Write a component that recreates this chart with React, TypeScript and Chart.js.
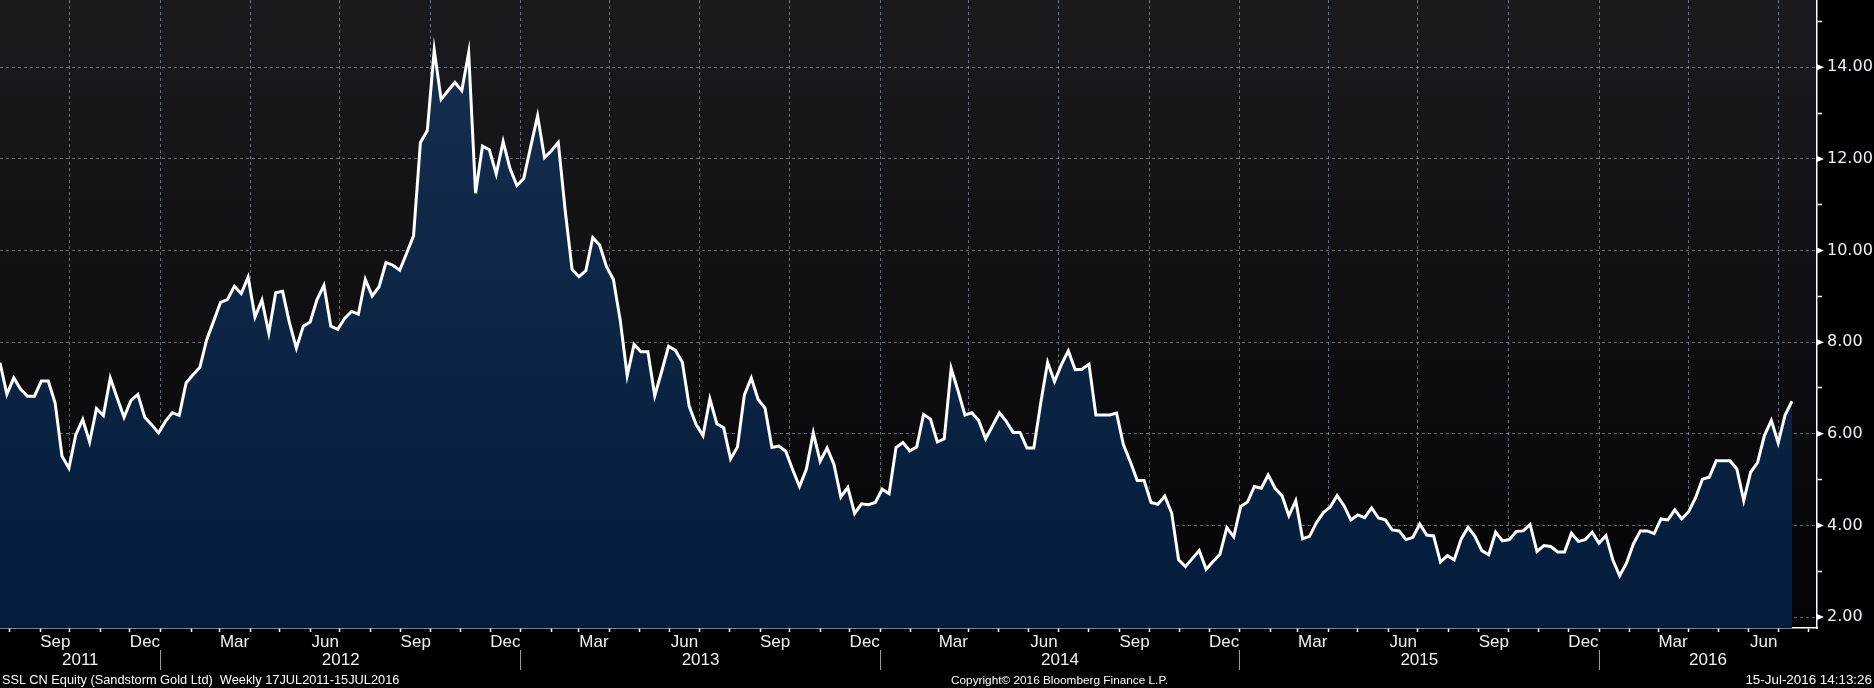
import React, { useEffect, useRef } from "react";
import { Chart, registerables } from "chart.js";

Chart.register(...registerables);

// ---- data -------------------------------------------------------------
const START_UTC = Date.UTC(2011, 6, 22); // first weekly close (Fri 22 Jul 2011)
const DAY_MS = 86400000;
const WEEK_DAYS = 7;
const X_MAX_DAYS = 1845.4;
const Y_MIN = 1.76;
const Y_MAX = 15.47;

// weekly closes, SSL CN Equity (CAD)
const prices2011 = [
  7.55, 6.86, 7.22, 6.97, 6.82, 6.82, 7.15, 7.15, 6.67, 5.51, 5.25, 5.98, 6.31,
  5.82, 6.55, 6.4, 7.22, 6.78, 6.36, 6.73, 6.86, 6.36, 6.2,
];
const prices2012 = [
  6.02, 6.27, 6.46, 6.4, 7.11, 7.29, 7.45, 8.06, 8.46, 8.87, 8.93, 9.22, 9.06,
  9.42, 8.55, 8.92, 8.2, 9.08, 9.11, 8.42, 7.87, 8.35, 8.44, 8.93, 9.24, 8.35,
  8.28, 8.52, 8.67, 8.61, 9.37, 9.01, 9.21, 9.74, 9.68, 9.57, 9.94, 10.32,
  12.36, 12.62, 14.38, 13.3, 13.49, 13.67, 13.49, 14.32, 11.25, 12.28, 12.2,
  11.67, 12.38, 11.79, 11.42,
];
const prices2013 = [
  11.58, 12.27, 12.94, 12.03, 12.18, 12.36, 10.88, 9.59, 9.43, 9.56, 10.28,
  10.12, 9.65, 9.37, 8.47, 7.27, 7.95, 7.79, 7.79, 6.83, 7.36, 7.91, 7.82, 7.56,
  6.6, 6.2, 5.96, 6.76, 6.22, 6.13, 5.45, 5.71, 6.85, 7.22, 6.75, 6.56, 5.7,
  5.73, 5.62, 5.22, 4.85, 5.23, 6.02, 5.4, 5.69, 5.33, 4.62, 4.83, 4.26, 4.47,
  4.45, 4.5,
];
const prices2014 = [
  4.79, 4.69, 5.7, 5.81, 5.63, 5.71, 6.42, 6.32, 5.82, 5.89, 7.43, 6.94, 6.41,
  6.46, 6.29, 5.89, 6.17, 6.46, 6.27, 6.03, 6.03, 5.69, 5.69, 6.67, 7.56, 7.14,
  7.51, 7.81, 7.4, 7.41, 7.52, 6.41, 6.41, 6.41, 6.45, 5.76, 5.39, 4.98, 4.98,
  4.5, 4.46, 4.64, 4.27, 3.25, 3.1, 3.28, 3.45, 3.04, 3.21, 3.37, 3.95, 3.75,
];
const prices2015 = [
  4.41, 4.51, 4.85, 4.81, 5.1, 4.81, 4.65, 4.21, 4.54, 3.71, 3.76, 4.06, 4.28,
  4.4, 4.65, 4.43, 4.12, 4.23, 4.17, 4.38, 4.16, 4.12, 3.9, 3.88, 3.69, 3.74,
  4.03, 3.79, 3.77, 3.2, 3.34, 3.25, 3.7, 3.96, 3.76, 3.45, 3.36, 3.85, 3.66,
  3.69, 3.87, 3.88, 4.02, 3.43, 3.56, 3.54, 3.42, 3.42, 3.83, 3.65, 3.69, 3.85,
];
const prices2016 = [
  3.61, 3.78, 3.25, 2.9, 3.18, 3.6, 3.88, 3.88, 3.82, 4.14, 4.12, 4.34, 4.14,
  4.3, 4.6, 5.01, 5.05, 5.41, 5.41, 5.41, 5.23, 4.54, 5.16, 5.37, 5.96, 6.29,
  5.8, 6.41, 6.71,
];
const PRICES = [
  ...prices2011,
  ...prices2012,
  ...prices2013,
  ...prices2014,
  ...prices2015,
  ...prices2016,
];

const MONTH_NAMES = ["Jan", "Feb", "Mar", "Apr", "May", "Jun", "Jul", "Aug", "Sep", "Oct", "Nov", "Dec"];
const LABELLED_MONTHS = ["Sep", "Dec", "Mar", "Jun"];
const GRID_MONTHS = ["Jan", "Apr", "Jul", "Oct"];
const YEARS = [2011, 2012, 2013, 2014, 2015, 2016];
const Y_TICKS = [2, 3, 4, 5, 6, 7, 8, 9, 10, 11, 12, 13, 14, 15];

const FOOTER_LEFT = "SSL CN Equity (Sandstorm Gold Ltd)  Weekly 17JUL2011-15JUL2016";
const FOOTER_CENTER = "Copyright\u00A9 2016 Bloomberg Finance L.P.";
const FOOTER_RIGHT = "15-Jul-2016 14:13:26";

// ---- helpers ----------------------------------------------------------
const dayOf = (y: number, m: number) => (Date.UTC(y, m, 1) - START_UTC) / DAY_MS;
const monthOf = (d: number) => new Date(START_UTC + Math.round(d) * DAY_MS).getUTCMonth();

const MONTH_TICKS: number[] = [];
for (const y of [2011, ...YEARS.slice(1), 2017]) {
  for (let m = 0; m < 12; m++) {
    const d = dayOf(y, m);
    if (d >= 0 && d <= X_MAX_DAYS) MONTH_TICKS.push(d);
  }
}

type YearTick = { value: number; label: string; boundary: boolean };
const YEAR_TICKS: YearTick[] = [];
for (const y of YEARS) {
  const lo = Math.max(0, dayOf(y, 0));
  const hi = Math.min(X_MAX_DAYS, dayOf(y + 1, 0));
  if (dayOf(y, 0) > 0) YEAR_TICKS.push({ value: dayOf(y, 0), label: "", boundary: true });
  YEAR_TICKS.push({ value: (lo + hi) / 2, label: String(y), boundary: false });
}
YEAR_TICKS.sort((a, b) => a.value - b.value);

const GRID_COLOR = "rgba(175,192,222,0.5)";
const AXIS_FONT = "'Liberation Sans', Arial, sans-serif";
const VALUE_FONT = "'DejaVu Sans', Verdana, sans-serif";

const noPadding = (s: any) => {
  s.paddingLeft = 0;
  s.paddingRight = 0;
  s.paddingTop = 0;
  s.paddingBottom = 0;
};

const backgroundPlugin = {
  id: "bbgBackground",
  beforeDraw(chart: any) {
    const { ctx, chartArea, width, height } = chart;
    ctx.save();
    ctx.fillStyle = "#000000";
    ctx.fillRect(0, 0, width, height);
    if (chartArea) {
      const g = ctx.createLinearGradient(0, chartArea.top, 0, chartArea.bottom);
      g.addColorStop(0, "#1b1b1f");
      g.addColorStop(1, "#040406");
      ctx.fillStyle = g;
      ctx.fillRect(chartArea.left, chartArea.top, chartArea.right - chartArea.left, chartArea.bottom - chartArea.top);
    }
    ctx.restore();
  },
};

const markerPlugin = {
  id: "bbgMarkers",
  afterDraw(chart: any) {
    const s = chart.scales.y;
    if (!s) return;
    const ctx = chart.ctx;
    ctx.save();
    ctx.fillStyle = "#ffffff";
    for (const t of s.ticks) {
      if (t.value % 2 !== 0) continue;
      const y = s.getPixelForValue(t.value);
      ctx.beginPath();
      ctx.moveTo(s.left, y - 3);
      ctx.lineTo(s.left + 7, y);
      ctx.lineTo(s.left, y + 3);
      ctx.closePath();
      ctx.fill();
    }
    ctx.restore();
  },
};

export default function App() {
  const canvasRef = useRef<HTMLCanvasElement | null>(null);

  useEffect(() => {
    document.body.style.margin = "0";
    document.body.style.background = "#000";
    const canvas = canvasRef.current;
    if (!canvas) return;

    const chart = new Chart(canvas, {
      type: "line",
      data: {
        datasets: [
          {
            data: PRICES.map((v, i) => ({ x: i * WEEK_DAYS, y: v })),
            borderColor: "#ffffff",
            borderWidth: 3,
            pointRadius: 0,
            pointHoverRadius: 0,
            tension: 0,
            fill: "start",
            backgroundColor: (c: any) => {
              const ca = c.chart.chartArea;
              if (!ca) return "#0a2444";
              const g = c.chart.ctx.createLinearGradient(0, ca.top, 0, ca.bottom);
              g.addColorStop(0, "#172f50");
              g.addColorStop(1, "#031c3b");
              return g;
            },
          },
        ],
      },
      options: {
        responsive: false,
        animation: false,
        events: [],
        layout: { autoPadding: false, padding: { left: 0, top: 0, right: 0, bottom: 16 } },
        plugins: { legend: { display: false }, tooltip: { enabled: false }, title: { display: false } },
        scales: {
          x: {
            type: "linear",
            position: "bottom",
            min: 0,
            max: X_MAX_DAYS,
            weight: 0,
            z: 1,
            afterBuildTicks: (s: any) => {
              s.ticks = MONTH_TICKS.map((v) => ({ value: v }));
            },
            afterFit: (s: any) => {
              s.height = 22;
              noPadding(s);
            },
            grid: {
              color: (c: any) =>
                c.tick && GRID_MONTHS.includes(MONTH_NAMES[monthOf(c.tick.value)]) ? GRID_COLOR : "rgba(0,0,0,0)",
              lineWidth: 1,
              drawTicks: true,
              tickLength: 4,
              tickColor: "#ffffff",
              tickWidth: 1.5,
            },
            border: { display: true, color: "#ffffff", width: 1.5, dash: [3, 3] },
            ticks: {
              autoSkip: false,
              maxRotation: 0,
              minRotation: 0,
              labelOffset: 15,
              padding: 0,
              color: "#f2f2f2",
              font: { family: AXIS_FONT, size: 17 },
              callback: (v: any) => {
                const name = MONTH_NAMES[monthOf(Number(v))];
                return LABELLED_MONTHS.includes(name) ? name : "";
              },
            },
          },
          xYear: {
            type: "linear",
            position: "bottom",
            min: 0,
            max: X_MAX_DAYS,
            weight: 1,
            z: 1,
            afterBuildTicks: (s: any) => {
              s.ticks = YEAR_TICKS.map((t) => ({ value: t.value }));
            },
            afterFit: (s: any) => {
              s.height = 22;
              noPadding(s);
            },
            grid: {
              drawOnChartArea: false,
              drawTicks: true,
              tickLength: 20,
              tickWidth: 1,
              tickColor: (c: any) => (YEAR_TICKS[c.index] && YEAR_TICKS[c.index].boundary ? "#9a9a9a" : "rgba(0,0,0,0)"),
            },
            border: { display: false },
            ticks: {
              autoSkip: false,
              maxRotation: 0,
              minRotation: 0,
              padding: -20,
              color: "#f2f2f2",
              font: { family: AXIS_FONT, size: 17 },
              callback: (_v: any, i: number) => (YEAR_TICKS[i] ? YEAR_TICKS[i].label : ""),
            },
          },
          y: {
            type: "linear",
            position: "right",
            min: Y_MIN,
            max: Y_MAX,
            z: 1,
            afterBuildTicks: (s: any) => {
              s.ticks = Y_TICKS.map((v) => ({ value: v }));
            },
            afterFit: (s: any) => {
              s.width = 57;
              noPadding(s);
            },
            grid: {
              color: (c: any) => (c.tick && c.tick.value % 2 === 0 ? GRID_COLOR : "rgba(0,0,0,0)"),
              lineWidth: 1,
              drawTicks: true,
              tickLength: 5,
              tickWidth: 1.5,
              tickColor: (c: any) => (c.tick && c.tick.value % 2 !== 0 ? "#ffffff" : "rgba(0,0,0,0)"),
            },
            border: { display: true, color: "#ffffff", width: 1.5, dash: [3, 3] },
            ticks: {
              autoSkip: false,
              padding: 5,
              color: "#eef2fa",
              font: { family: VALUE_FONT, size: 16 },
              callback: (v: any) => (Number(v) % 2 === 0 ? Number(v).toFixed(2) : ""),
            },
          },
        },
      } as any,
      plugins: [backgroundPlugin, markerPlugin],
    });

    return () => chart.destroy();
  }, []);

  const footStyle: React.CSSProperties = {
    position: "absolute",
    top: 673,
    fontFamily: AXIS_FONT,
    fontSize: 12,
    lineHeight: "14px",
    color: "#ffffff",
    whiteSpace: "pre",
  };

  return (
    <div style={{ position: "relative", width: 1874, height: 688, background: "#000", overflow: "hidden" }}>
      <canvas ref={canvasRef} width={1874} height={688} style={{ display: "block", width: 1874, height: 688 }} />
      <div style={{ ...footStyle, left: 2, fontSize: 12.8 }}>{FOOTER_LEFT}</div>
      <div style={{ ...footStyle, left: 951, fontSize: 11.8 }}>{FOOTER_CENTER}</div>
      <div style={{ ...footStyle, right: 2, fontSize: 13.4 }}>{FOOTER_RIGHT}</div>
    </div>
  );
}
